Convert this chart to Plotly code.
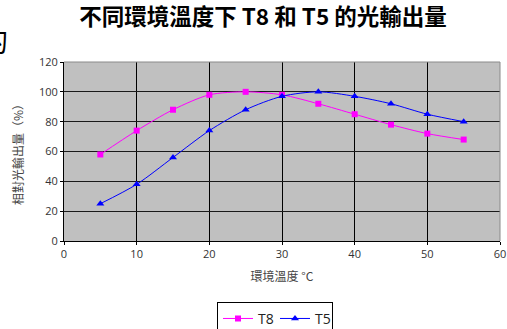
import plotly.graph_objects as go

temps = [5, 10, 15, 20, 25, 30, 35, 40, 45, 50, 55]
t8 = [58, 74, 88, 98, 100, 98, 92, 85, 78, 72, 68]
t5 = [25, 38, 56, 74, 88, 97, 100, 97, 92, 85, 80]

title_text = "不同環境溫度下 T8 和 T5 的光輸出量"
x_title = "環境溫度 °C"
y_title = "相對光輸出量（%）"

cjk = "Noto Sans CJK TC"
lat = "Open Sans"

fig = go.Figure()
fig.add_trace(go.Scatter(x=temps, y=t8, name="T8", mode="lines+markers",
                         line=dict(color="#FF00FF", width=1, shape="spline", smoothing=0.8),
                         marker=dict(symbol="square", size=6, color="#FF00FF")))
fig.add_trace(go.Scatter(x=temps, y=t5, name="T5", mode="lines+markers",
                         line=dict(color="#0000FF", width=1, shape="spline", smoothing=0.8),
                         marker=dict(symbol="triangle-up", size=7, color="#0000FF")))

fig.update_layout(
    width=507, height=329,
    margin=dict(l=64, r=7, t=62, b=88, autoexpand=False),
    paper_bgcolor="white", plot_bgcolor="#C0C0C0",
    title=dict(text="<b>" + title_text + "</b>", x=263 / 507, xanchor="center",
               y=1 - 17 / 329, yanchor="middle", automargin=False,
               font=dict(family=cjk, size=22.5, color="black")),
    showlegend=True,
    legend=dict(orientation="h", x=(275 - 64) / 436, xanchor="center", y=-0.34, yanchor="top",
                bordercolor="black", borderwidth=1, bgcolor="white",
                font=dict(family=lat, size=14, color="#222"),
                itemwidth=30, entrywidth=12, tracegroupgap=0),
    xaxis=dict(range=[0, 60], dtick=10, showgrid=True, gridcolor="black", gridwidth=1,
               showline=True, linecolor="black", linewidth=1, zeroline=False,
               ticks="outside", ticklen=3, tickcolor="black", automargin=False,
               tickfont=dict(family=lat, size=11, color="#333"),
               title=dict(text=x_title, font=dict(family=cjk, size=12, color="#444"), standoff=12)),
    yaxis=dict(range=[0, 120], dtick=20, showgrid=True, gridcolor="#1a1a1a", gridwidth=1,
               showline=True, linecolor="black", linewidth=1, zeroline=False,
               ticks="outside", ticklen=3, tickcolor="black", automargin=False,
               tickfont=dict(family=lat, size=11, color="#333"),
               title=dict(text=y_title, font=dict(family=cjk, size=12, color="#444"), standoff=12)),
)

# gray top/right border of plot area
fig.add_shape(type="line", xref="paper", yref="paper", x0=0, x1=1, y0=1, y1=1,
              line=dict(color="#8a8a8a", width=1))
fig.add_shape(type="line", xref="paper", yref="paper", x0=1, x1=1, y0=0, y1=1,
              line=dict(color="#8a8a8a", width=1))

# clipped stray character at top-left
fig.add_annotation(text="的", xref="paper", yref="paper", x=(10 - 64) / 436, xanchor="right",
                   y=(241 - 40) / 179, yanchor="middle", showarrow=False,
                   font=dict(family=cjk, size=28, color="black"))

fig.write_html("out.html", config={"displayModeBar": False},
               post_script="document.body.style.margin='0';")
